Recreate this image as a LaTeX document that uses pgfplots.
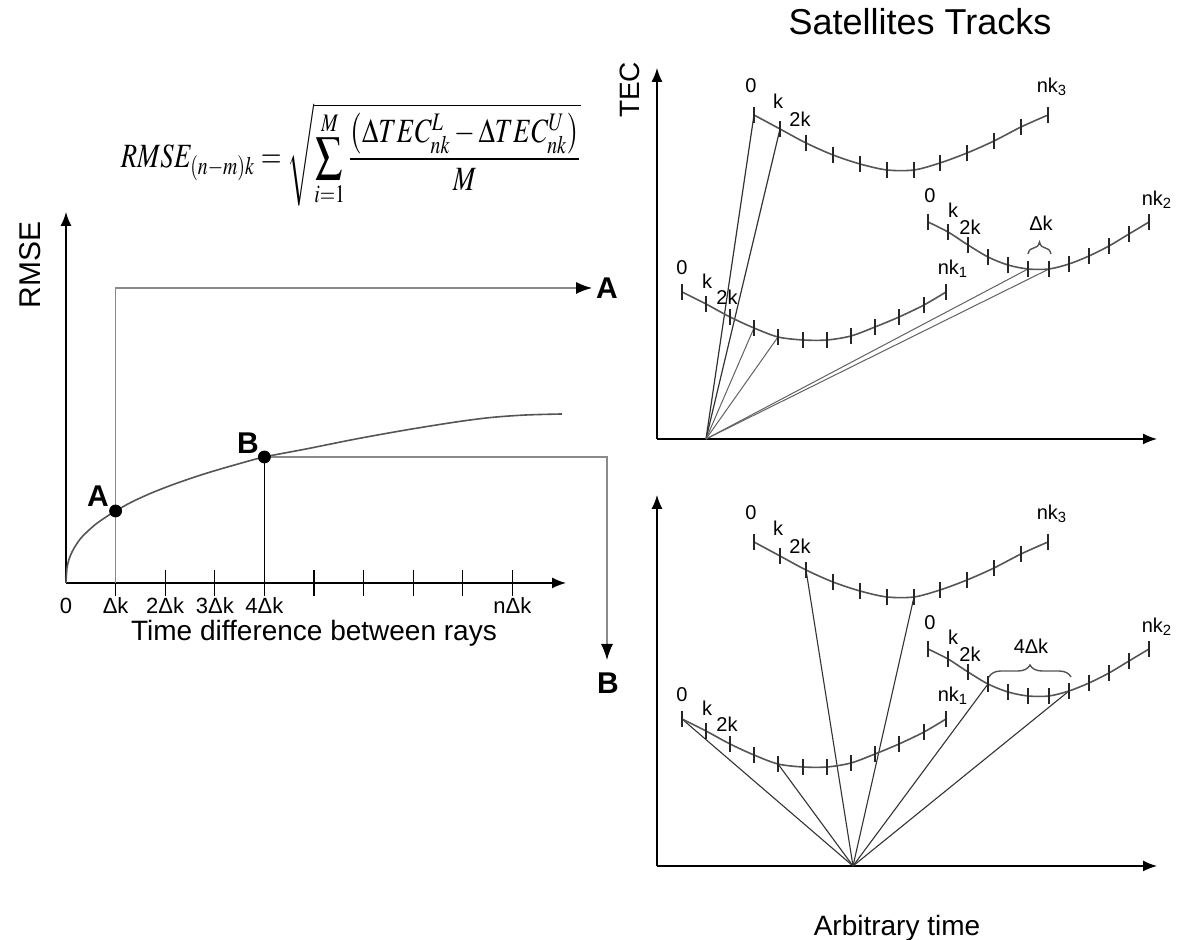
\documentclass[border=0pt]{standalone}
\usepackage{mathptmx}
\usepackage[no-math]{fontspec}
\setmainfont{Liberation Sans}
\usepackage{pgfplots}
\usepackage{pgfplotstable}
\pgfplotsset{compat=1.18}
\usetikzlibrary{arrows.meta,decorations.pathreplacing}

\definecolor{trk}{HTML}{555555}
\definecolor{ray}{HTML}{333333}
\definecolor{gln}{HTML}{8A8A8A}

% satellite tracks (u = time position, v = TEC), shared by both right panels
\pgfplotstableread{
u v
97 324
123 310
149 296
176 284
203 275
230 269
257 269
283 276
310 286
337 298
364 312
391 324
}\trackthree
\pgfplotstableread{
u v
25 147
49 135
73 122
97 111
121 102
146 99
170 99
194 103
218 112
242 122
267 134
289 147
}\trackone
\pgfplotstableread{
u v
271 217
291 207
311 194
331 182
351 174
371 170
392 170
412 175
432 183
452 193
472 205
492 217
}\tracktwo
% RMSE curve
\pgfplotstableread{
u v
0 0
1 15
3 23.6
6 31
10 38
15 45
22 52
30 59
40 66
49.6 72
65 80.6
85 89.8
110 99.5
140 109.6
170 118.4
198.4 126
240 134
290 144
340 153
390 161
425 165.5
460 168
496 169
}\rmsecurve

\pgfplotsset{panel/.style={
  scale only axis, width=250pt, height=185.5pt,
  xmin=0, xmax=500, ymin=0, ymax=371,
  axis lines=left,
  axis line style={line width=0.7pt, -{Latex[length=7pt,width=5.5pt]}},
  clip=false, enlargelimits=false, ytick=\empty,
},
trackline/.style={trk, line width=0.8pt, smooth},
trackticks/.style={only marks, mark=|, mark size=4pt, mark options={line width=0.6pt, black!85}},
}
\tikzset{lab/.style={font=\fontsize{10}{12}\selectfont, inner sep=0pt},
  bl/.style={font=\bfseries\fontsize{15}{17}\selectfont, inner sep=0pt},
  brc/.style={gln!60!black, line width=0.7pt, decorate, decoration={brace, amplitude=6pt}}}

\begin{document}
\begin{tikzpicture}
\useasboundingbox (0,0) rectangle (590pt,470pt);

% ---------------- left panel ----------------
\begin{axis}[panel, at={(33pt,178.5pt)}, anchor=south west,
  xtick={49.6,99.2,148.8,198.4,248,297.6,347.2,396.8,446.4},
  xticklabels={Δk,2Δk,3Δk,4Δk,,,,,nΔk},
  xtick align=center, major tick length=13pt,
  tick style={black, line width=0.6pt},
  xticklabel style={font=\fontsize{11}{13}\selectfont, anchor=north, yshift=2.5pt},
]
\addplot[trk, line width=0.8pt, smooth, tension=0.5] table {\rmsecurve};
\addplot[gln, line width=0.6pt, -{Latex[length=8pt,width=6pt,black]}] coordinates {(49.6,0) (49.6,295) (526,295)};
\addplot[black, line width=0.8pt] coordinates {(198.4,0) (198.4,126)};
\addplot[gln, line width=0.6pt, -{Latex[length=8pt,width=6pt,black]}] coordinates {(198.4,126) (541,126) (541,-77)};
\addplot[only marks, mark=*, mark size=3pt, black] coordinates {(49.6,72) (198.4,126)};
\node[font=\fontsize{11}{13}\selectfont, anchor=north, yshift=-4pt] at (axis cs:0,0) {0};
\node[bl] at (axis cs:32,87) {A};
\node[bl] at (axis cs:182,140) {B};
\node[bl] at (axis cs:541,295) {A};
\node[bl] at (axis cs:542,-100) {B};
\node[font=\fontsize{14}{16}\selectfont] at (axis cs:248,-50) {Time difference between rays};
\node[rotate=90, font=\fontsize{15}{17}\selectfont] at (axis cs:-36,318) {RMSE};
\node at (axis cs:285,428)
  {\scalebox{0.785}[1]{\fontsize{17}{20}\selectfont$\displaystyle RMSE_{(n-m)k}=\sqrt{\sum_{i=1}^{M}\frac{\left(\Delta TEC_{nk}^{L}-\Delta TEC_{nk}^{U}\right)}{M}}$}};
\end{axis}

% ---------------- top right panel ----------------
\begin{axis}[panel, at={(328.5pt,250.5pt)}, anchor=south west, xtick=\empty]
\addplot[ray, line width=0.6pt] coordinates {(49,0) (97,324)};
\addplot[ray, line width=0.6pt] coordinates {(49,0) (123,310)};
\addplot[gln!70!black, line width=0.5pt] coordinates {(49,0) (97,111)};
\addplot[gln!70!black, line width=0.5pt] coordinates {(49,0) (121,102)};
\addplot[gln!70!black, line width=0.5pt] coordinates {(49,0) (371,170)};
\addplot[gln!70!black, line width=0.5pt] coordinates {(49,0) (392,170)};
\addplot[trackline] table {\trackone};
\addplot[trackticks] table {\trackone};
\addplot[trackline] table {\tracktwo};
\addplot[trackticks] table {\tracktwo};
\addplot[trackline] table {\trackthree};
\addplot[trackticks] table {\trackthree};
\draw[brc] (axis cs:371,185) -- (axis cs:394,185);
\node[lab] at (axis cs:384,216) {Δk};
\node[lab] at (axis cs:94,353) {0};
\node[lab] at (axis cs:121,338) {k};
\node[lab] at (axis cs:143,320) {2k};
\node[lab] at (axis cs:395,352) {nk\textsubscript{3}};
\node[lab] at (axis cs:25,171) {0};
\node[lab] at (axis cs:50,158) {k};
\node[lab] at (axis cs:70,142) {2k};
\node[lab] at (axis cs:296,170) {nk\textsubscript{1}};
\node[lab] at (axis cs:273,243) {0};
\node[lab] at (axis cs:296,229) {k};
\node[lab] at (axis cs:313,212) {2k};
\node[lab] at (axis cs:500,239) {nk\textsubscript{2}};
\node[font=\fontsize{18}{21}\selectfont] at (axis cs:263,417) {Satellites Tracks};
\node[rotate=90, font=\fontsize{14}{16}\selectfont] at (axis cs:-27,349) {TEC};
\end{axis}

% ---------------- bottom right panel ----------------
\begin{axis}[panel, at={(328.5pt,37pt)}, anchor=south west, xtick=\empty]
\addplot[ray, line width=0.55pt] coordinates {(196,0) (25,147)};
\addplot[ray, line width=0.55pt] coordinates {(196,0) (121,102)};
\addplot[ray, line width=0.55pt] coordinates {(196,0) (149,296)};
\addplot[ray, line width=0.55pt] coordinates {(196,0) (257,269)};
\addplot[ray, line width=0.55pt] coordinates {(196,0) (331,182)};
\addplot[ray, line width=0.55pt] coordinates {(196,0) (412,175)};
\addplot[trackline] table {\trackone};
\addplot[trackticks] table {\trackone};
\addplot[trackline] table {\tracktwo};
\addplot[trackticks] table {\tracktwo};
\addplot[trackline] table {\trackthree};
\addplot[trackticks] table {\trackthree};
\draw[brc] (axis cs:332,189) -- (axis cs:414,189);
\node[lab] at (axis cs:374,220) {4Δk};
\node[lab] at (axis cs:94,353) {0};
\node[lab] at (axis cs:121,338) {k};
\node[lab] at (axis cs:143,320) {2k};
\node[lab] at (axis cs:395,352) {nk\textsubscript{3}};
\node[lab] at (axis cs:25,171) {0};
\node[lab] at (axis cs:50,158) {k};
\node[lab] at (axis cs:70,142) {2k};
\node[lab] at (axis cs:296,170) {nk\textsubscript{1}};
\node[lab] at (axis cs:273,243) {0};
\node[lab] at (axis cs:296,229) {k};
\node[lab] at (axis cs:313,212) {2k};
\node[lab] at (axis cs:500,239) {nk\textsubscript{2}};
\node[font=\fontsize{14}{16}\selectfont] at (axis cs:240,-62) {Arbitrary time};
\end{axis}
\end{tikzpicture}
\end{document}
